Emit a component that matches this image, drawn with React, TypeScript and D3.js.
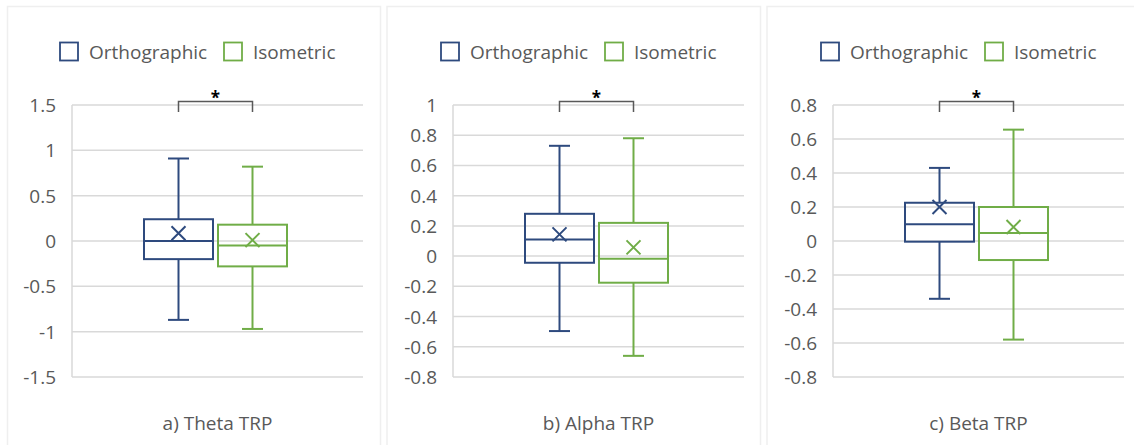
import React from "react";
import * as d3 from "d3";

// data
const panelTitles = ["a) Theta TRP", "b) Alpha TRP", "c) Beta TRP"];
const seriesNames = ["Orthographic", "Isometric"];
const seriesColors = ["#2e4a7e", "#70ad47"];

const yDomains: [number, number][] = [
  [-1.5, 1.5],
  [-0.8, 1],
  [-0.8, 0.8],
];
const yTicks = [
  [-1.5, -1, -0.5, 0, 0.5, 1, 1.5],
  [-0.8, -0.6, -0.4, -0.2, 0, 0.2, 0.4, 0.6, 0.8, 1],
  [-0.8, -0.6, -0.4, -0.2, 0, 0.2, 0.4, 0.6, 0.8],
];

// [min, q1, median, q3, max, mean]
const orthoStats = [
  [-0.87, -0.2, 0.0, 0.24, 0.91, 0.085],
  [-0.496, -0.044, 0.11, 0.28, 0.73, 0.144],
  [-0.34, -0.004, 0.098, 0.225, 0.43, 0.2],
];
const isoStats = [
  [-0.97, -0.28, -0.05, 0.18, 0.82, 0.01],
  [-0.66, -0.176, -0.017, 0.22, 0.78, 0.058],
  [-0.58, -0.112, 0.047, 0.2, 0.655, 0.082],
];

const W = 1134;
const H = 445;
const panelLeft = [7.5, 387, 767];
const panelWidth = [373, 373.5, 380];
const plotLeft = [72, 453, 833];
const plotW = 291;
const plotTop = 105;
const plotBottom = 377;
const font = "'Open Sans', sans-serif";
const fs = 19;
const textColor = "#595959";
const gridColor = "#d9d9d9";

function fmt(v: number) {
  return String(Math.round(v * 10) / 10);
}

function Panel({ i }: { i: number }) {
  const y = d3.scaleLinear().domain(yDomains[i]).range([plotBottom, plotTop]);
  const x0 = plotLeft[i];
  const cx = x0 + plotW / 2;
  const band = d3
    .scaleBand<string>()
    .domain(seriesNames)
    .range([x0 + 72, x0 + 215])
    .paddingInner(0.0676)
    .paddingOuter(0);
  const bw = band.bandwidth();
  const stats = [orthoStats[i], isoStats[i]];
  const centers = seriesNames.map((s) => (band(s) as number) + bw / 2);

  return (
    <g>
      <rect
        x={panelLeft[i]}
        y={6.5}
        width={panelWidth[i]}
        height={H}
        fill="#fff"
        stroke="#efefef"
        strokeWidth={1.5}
      />
      {/* legend */}
      {seriesNames.map((s, k) => {
        const lx = cx - 157.5 + k * 164;
        return (
          <g key={s}>
            <rect x={lx} y={42.5} width={18} height={18} fill="none" stroke={seriesColors[k]} strokeWidth={1.8} />
            <text x={lx + 29} y={58.5} fontFamily={font} fontSize={fs} fill={textColor}>
              {s}
            </text>
          </g>
        );
      })}
      {/* grid */}
      {yTicks[i].map((t) => (
        <g key={t}>
          <line x1={x0} x2={x0 + plotW} y1={y(t)} y2={y(t)} stroke={gridColor} strokeWidth={1.5} />
          <text
            x={x0 - 16}
            y={y(t)}
            textAnchor="end"
            dominantBaseline="central"
            fontFamily={font}
            fontSize={fs}
            fill={textColor}
          >
            {fmt(t)}
          </text>
        </g>
      ))}
      <line x1={x0} x2={x0} y1={plotTop} y2={plotBottom} stroke={gridColor} strokeWidth={1.5} />
      {/* boxes */}
      {stats.map((st, k) => {
        const c = centers[k];
        const bx = band(seriesNames[k]) as number;
        const col = seriesColors[k];
        const [mn, q1, md, q3, mx, mean] = st;
        return (
          <g key={k} stroke={col} strokeWidth={2} fill="none">
            <line x1={c} x2={c} y1={y(mx)} y2={y(q3)} />
            <line x1={c} x2={c} y1={y(q1)} y2={y(mn)} />
            <line x1={c - 10.5} x2={c + 10.5} y1={y(mx)} y2={y(mx)} />
            <line x1={c - 10.5} x2={c + 10.5} y1={y(mn)} y2={y(mn)} />
            <rect x={bx} y={y(q3)} width={bw} height={y(q1) - y(q3)} />
            <line x1={bx} x2={bx + bw} y1={y(md)} y2={y(md)} />
            <path
              d={`M${c - 7},${y(mean) - 7}L${c + 7},${y(mean) + 7}M${c - 7},${y(mean) + 7}L${c + 7},${y(mean) - 7}`}
            />
          </g>
        );
      })}
      {/* significance bracket */}
      <path
        d={`M${centers[0]},112V101.5H${centers[1]}V112`}
        fill="none"
        stroke="#595959"
        strokeWidth={1.5}
      />
      <text
        x={(centers[0] + centers[1]) / 2}
        y={104}
        textAnchor="middle"
        fontFamily={font}
        fontSize={17}
        fontWeight="bold"
        fill="#000"
      >
        *
      </text>
      <text x={cx} y={430} textAnchor="middle" fontFamily={font} fontSize={fs} fill={textColor}>
        {panelTitles[i]}
      </text>
    </g>
  );
}

export default function App() {
  return (
    <svg
      width={W}
      height={H}
      style={{ position: "absolute", left: 0, top: 0, background: "#fff" }}
    >
      {panelTitles.map((_, i) => (
        <Panel key={i} i={i} />
      ))}
    </svg>
  );
}
